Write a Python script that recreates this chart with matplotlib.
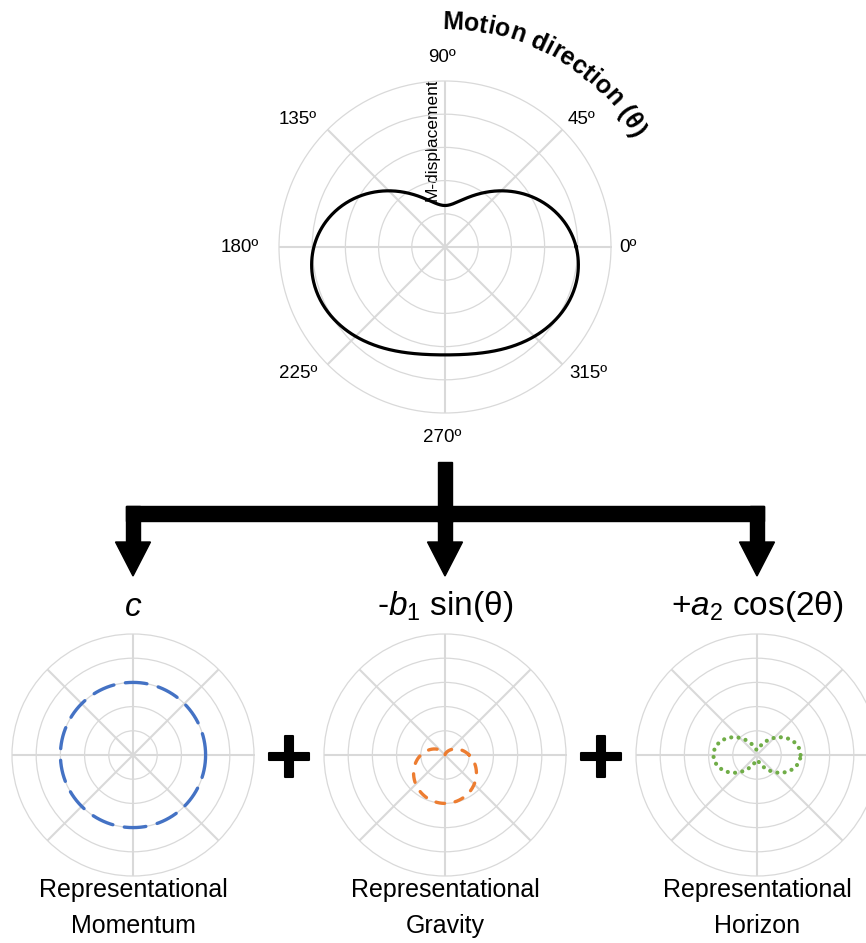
import numpy as np
import matplotlib.pyplot as plt
from matplotlib.patches import Polygon, Rectangle
import matplotlib.patheffects as pe

plt.rcParams['font.family'] = ['Liberation Sans', 'DejaVu Sans']
plt.rcParams['mathtext.fontset'] = 'custom'
plt.rcParams['mathtext.rm'] = 'Liberation Sans'
plt.rcParams['mathtext.it'] = 'Liberation Sans:italic'

# model  r = c - b1*sin(theta) + a2*cos(2*theta)
c_top, b1_top, a2_top = 2.1, 1.0, 0.85      # fitted curve (top)
c_comp, b1_comp, a2_comp = 2.0, 1.0, 0.8    # components (bottom)

dir_deg = [0, 45, 90, 135, 180, 225, 270, 315]
dir_labels = ['0º', '45º', '90º', '135º', '180º', '225º', '270º', '315º']
rings = [0, 1, 2, 3]
r_min, r_max = -1, 4

comp_titles = ['$\\mathit{c}$',
               '-$\\mathit{b}_{\\mathit{1}}$ sin(θ)',
               '+$\\mathit{a}_{\\mathit{2}}$ cos(2θ)']
comp_names = [('Representational', 'Momentum'),
              ('Representational', 'Gravity'),
              ('Representational', 'Horizon')]
comp_colors = ['#4472C4', '#ED7D31', '#70AD47']

W, H = 866, 943
fig = plt.figure(figsize=(W / 100, H / 100), dpi=100)

# pixel canvas for arrows and free text
cv = fig.add_axes([0, 0, 1, 1], zorder=-1)
cv.set_xlim(0, W)
cv.set_ylim(H, 0)
cv.axis('off')

grid_c = '#d9d9d9'


def polar_at(cx, cy, R):
    ax = fig.add_axes([(cx - R) / W, (H - cy - R) / H, 2 * R / W, 2 * R / H],
                      projection='polar')
    ax.set_ylim(r_min, r_max)
    ax.set_yticks(rings)
    ax.set_yticklabels([])
    ax.set_xticks(np.deg2rad(dir_deg))
    ax.set_xticklabels([])
    ax.tick_params(length=0)
    ax.xaxis.grid(True, color=grid_c, lw=1.5)
    ax.yaxis.grid(True, color=grid_c, lw=0.9)
    ax.spines['polar'].set_color(grid_c)
    ax.spines['polar'].set_linewidth(0.9)
    ax.patch.set_alpha(0)
    return ax


theta = np.linspace(0, 2 * np.pi, 721)

# ---- top plot
cx0, cy0, R0 = 445, 247, 166
ax0 = polar_at(cx0, cy0, R0)
r_top = c_top - b1_top * np.sin(theta) + a2_top * np.cos(2 * theta)
ax0.plot(theta, r_top, color='black', lw=2.3, zorder=3)

lab_off = [(183, 1), (137, -127), (-3, -189), (-147, -127),
           (-205, 1), (-147, 127), (-3, 190), (143, 127)]
for lab, (dx, dy) in zip(dir_labels, lab_off):
    cv.text(cx0 + dx, cy0 + dy, lab, ha='center', va='center', fontsize=13.5)

cv.text(432, 140, 'M-displacement', rotation=90, ha='center', va='center',
        fontsize=12.5)

# curved title along the arc
title = 'Motion direction (θ)'
rend = fig.canvas.get_renderer()
fs = 18
widths = []
for ch in title:
    if ch == ' ':
        widths.append(0.28 * fs * 100 / 72)
        continue
    t = cv.text(0, 0, ch, fontsize=fs, fontweight='bold')
    widths.append(t.get_window_extent(rend).width)
    t.remove()
widths = np.array(widths)
mids = np.cumsum(widths) - widths / 2
frac = (mids - mids[0]) / (mids[-1] - mids[0])
a_start, a_end, R_base = 88, 31, 218
for ch, f in zip(title, frac):
    ang = a_start - (a_start - a_end) * f
    a = np.deg2rad(ang)
    cv.text(cx0 + R_base * np.cos(a), cy0 - R_base * np.sin(a), ch,
            fontsize=fs, fontweight='bold', rotation=ang - 90,
            rotation_mode='anchor', ha='center', va='baseline')

# ---- bracket arrows
centers = [133, 445, 757]
k = 'black'
cv.add_patch(Rectangle((438, 462), 14, 60, color=k))
cv.add_patch(Rectangle((126, 506), 764 - 126, 15, color=k))
for x in centers:
    cv.add_patch(Rectangle((x - 7, 506), 14, 38, color=k))
    cv.add_patch(Polygon([(x - 17.5, 542), (x + 17.5, 542), (x, 576)], color=k))

# ---- component plots
cy1, R1 = 755, 121
comp_r = [np.full_like(theta, c_comp),
          -b1_comp * np.sin(theta),
          a2_comp * np.cos(2 * theta)]
comp_lw = [2.4, 2.4, 3.0]
comp_dash = [(6.5, 3.5), (2.6, 3.2), (0.01, 1.75)]
for x, r, col, lw, dsh, ttl, nm in zip(centers, comp_r, comp_colors, comp_lw,
                                       comp_dash, comp_titles, comp_names):
    ax = polar_at(x, cy1, R1)
    ax.plot(theta, r, color=col, lw=lw, dashes=dsh, dash_capstyle='round',
            zorder=3)
    cv.text(x, 607, ttl, ha='center', va='center', fontsize=24)
    cv.text(x, 890, nm[0], ha='center', va='center', fontsize=18)
    cv.text(x, 926, nm[1], ha='center', va='center', fontsize=18)

for x in [(centers[0] + centers[1]) / 2, (centers[1] + centers[2]) / 2]:
    cv.text(x, 752, '+', ha='center', va='center_baseline', fontsize=46,
            fontweight='bold', family='DejaVu Sans',
            path_effects=[pe.withStroke(linewidth=1.5, foreground='black')])

fig.savefig('out.png', dpi=100)
